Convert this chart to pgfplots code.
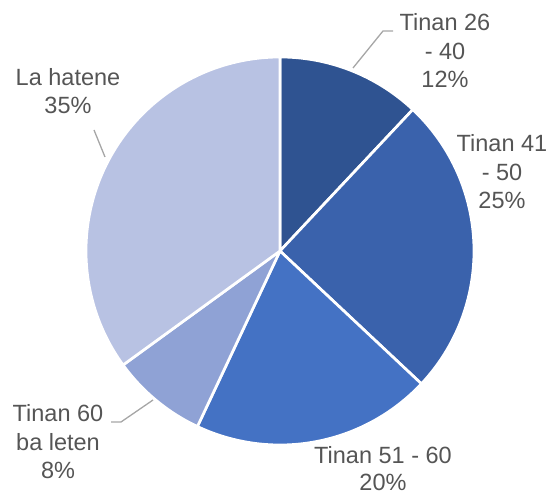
\documentclass[border=0pt]{standalone}
\usepackage{pgfplots}
\pgfplotsset{compat=1.18}
\usepackage{fontspec}
\setmainfont{Liberation Sans}
\definecolor{cA}{HTML}{2F5391}
\definecolor{cB}{HTML}{3A62AC}
\definecolor{cC}{HTML}{4472C4}
\definecolor{cD}{HTML}{8FA2D5}
\definecolor{cE}{HTML}{B8C2E3}
\definecolor{txt}{HTML}{555555}
\definecolor{lead}{HTML}{A6A6A6}
% slice: start (cumulative %), share (%), colour
\newcommand{\slice}[3]{%
  \addplot[fill=#3, draw=white, line width=2.7pt, line join=round,
    domain={90-3.6*(#1+#2)}:{90-3.6*(#1)}, samples=90, variable=\t]
    ({280+194*cos(\t)},{246+194*sin(\t)}) -- (axis cs:280,246) -- cycle;}
\begin{document}
\begin{tikzpicture}
\begin{axis}[
  scale only axis, width=550pt, height=497pt,
  xmin=0, xmax=550, ymin=0, ymax=497,
  hide axis, clip=false]
\path (axis cs:0,0) rectangle (axis cs:550,497);
% shares: 12, 25, 20, 8, 35
\slice{0}{12}{cA}
\slice{12}{25}{cB}
\slice{37}{20}{cC}
\slice{57}{8}{cD}
\slice{65}{35}{cE}
% leader lines
\addplot[lead, line width=1.3pt, no marks] coordinates {(353,429) (383,466) (393,466)};
\addplot[lead, line width=1.3pt, no marks] coordinates {(94,367) (105,340)};
\addplot[lead, line width=1.3pt, no marks] coordinates {(111,75) (121,75) (153,97)};
% labels
\begin{scope}[every node/.style={text=txt, align=center, inner sep=0pt,
    font=\fontsize{23.5}{28.5}\selectfont}]
\node at (axis cs:445,446) {Tinan 26\\- 40\\12\%};
\node at (axis cs:502,325) {Tinan 41\\- 50\\25\%};
\node at (axis cs:68,406) {La hatene\\35\%};
\node at (axis cs:58,55) {Tinan 60\\ba leten\\8\%};
\node[font=\fontsize{23.5}{27}\selectfont] at (axis cs:383,28) {Tinan 51 - 60\\20\%};
\end{scope}
\end{axis}
\end{tikzpicture}
\end{document}
